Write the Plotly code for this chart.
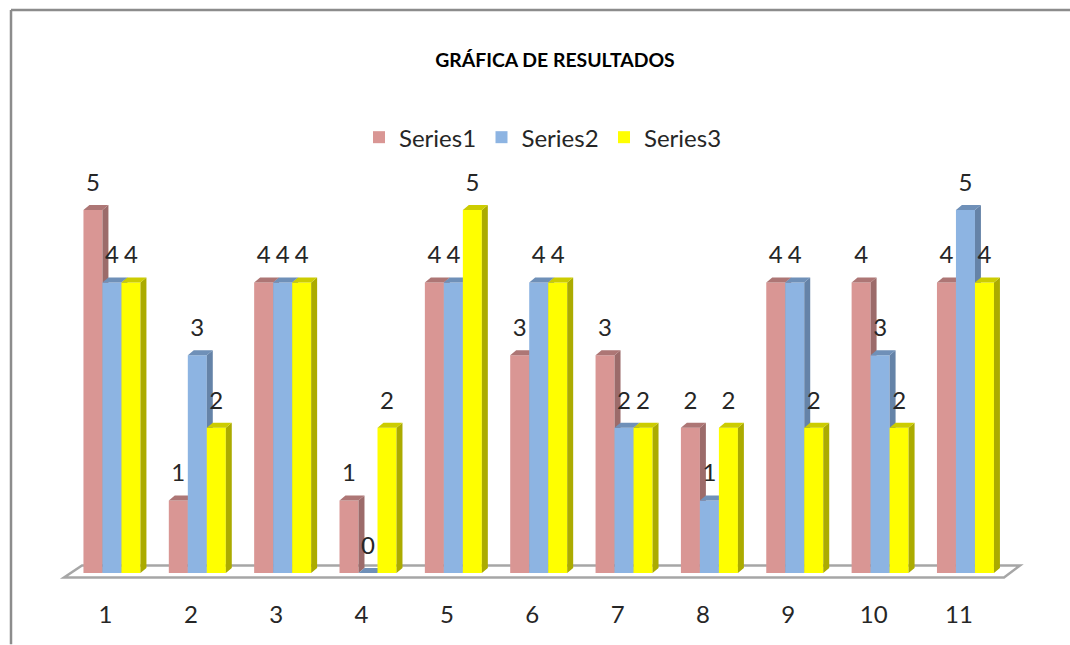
import plotly.graph_objects as go

categories = [1, 2, 3, 4, 5, 6, 7, 8, 9, 10, 11]
series1 = [5, 1, 4, 1, 4, 3, 3, 2, 4, 4, 4]
series2 = [4, 3, 4, 0, 4, 4, 2, 1, 4, 3, 5]
series3 = [4, 2, 4, 2, 5, 4, 2, 2, 2, 2, 4]
names = ['Series1', 'Series2', 'Series3']

front_colors = ['#D99694', '#8DB4E2', '#FFFF00']
side_colors = ['#9C6B6A', '#6583A8', '#ABAB00']
top_colors = ['#AD7675', '#6F90B8', '#CCCC00']

W, H = 1070, 645
L, R, T, B = 64, 50, 170.5, 66.5

# fake 3d look, all in axis units
x_range = [0.514, 11.715]
y_range = [-0.0687, 5.536]
bar_w = 0.2226
start = -0.258
dx = 0.07
dy = 0.069
label_gap = 0.18
font = 'Lato, sans-serif'


def px(x):
    return (x - L) / (W - L - R)


def py(y):
    return (H - B - y) / (H - T - B)


def faces(values, offset):
    side_x, side_y, top_x, top_y = [], [], [], []
    for c, v in zip(categories, values):
        x0 = c + offset
        x1 = x0 + bar_w
        side_x += [x1, x1 + dx, x1 + dx, x1, x1, None]
        side_y += [0, dy, v + dy, v, 0, None]
        top_x += [x0, x0 + dx, x1 + dx, x1, x0, None]
        top_y += [v, v + dy, v + dy, v, v, None]
    return side_x, side_y, top_x, top_y


fig = go.Figure()
axes = ['y', 'y2', 'y3']
for i, values in enumerate([series1, series2, series3]):
    offset = start + i * bar_w
    fig.add_trace(go.Bar(x=categories, y=values, name=names[i], width=bar_w, offset=offset, yaxis=axes[i],
                         marker=dict(color=front_colors[i], line=dict(width=0))))
    side_x, side_y, top_x, top_y = faces(values, offset)
    fig.add_trace(go.Scatter(x=side_x, y=side_y, mode='lines', fill='toself', fillcolor=side_colors[i], yaxis=axes[i],
                             line=dict(width=0), showlegend=False, hoverinfo='skip'))
    fig.add_trace(go.Scatter(x=top_x, y=top_y, mode='lines', fill='toself', fillcolor=top_colors[i], yaxis=axes[i],
                             line=dict(width=0), showlegend=False, hoverinfo='skip'))

# data labels go on the last overlay so nothing covers them
for i, values in enumerate([series1, series2, series3]):
    offset = start + i * bar_w
    fig.add_trace(go.Scatter(x=[c + offset + bar_w / 2 for c in categories], y=[v + label_gap for v in values],
                             mode='text', text=[str(v) for v in values], textposition='top center', yaxis='y3',
                             textfont=dict(family=font, size=24, color='#262626'), cliponaxis=False,
                             showlegend=False, hoverinfo='skip'))

# floor of the chart
floor = 'M {} {} L {} {} L {} {} L {} {} Z'.format(px(64), py(578), px(1004), py(578), px(1020), py(566), px(82), py(566))
fig.add_shape(type='path', path=floor, xref='paper', yref='paper', layer='below',
              line=dict(color='#A6A6A6', width=2.5), fillcolor='white')
# chart area frame, runs off the picture at the right and bottom
fig.add_shape(type='line', xref='paper', yref='paper', x0=px(11), x1=px(1070), y0=py(9), y1=py(9),
              line=dict(color='#8C8C8C', width=2.5))
fig.add_shape(type='line', xref='paper', yref='paper', x0=px(11), x1=px(11), y0=py(9), y1=py(645),
              line=dict(color='#8C8C8C', width=2.5))

fig.update_layout(
    width=W, height=H, margin=dict(l=L, r=R, t=T, b=B, autoexpand=False),
    paper_bgcolor='white', plot_bgcolor='rgba(0,0,0,0)',
    barmode='overlay', font=dict(family=font, color='#262626'),
    title=dict(text='<b>GRÁFICA DE RESULTADOS</b>', x=555 / W, xanchor='center', y=1 - 60 / H, yanchor='middle',
               font=dict(family=font, size=19.4, color='black')),
    legend=dict(orientation='h', x=px(359), xanchor='left', y=py(137), yanchor='middle', traceorder='normal',
                font=dict(family=font, size=24, color='#262626'), bgcolor='rgba(0,0,0,0)',
                entrywidth=77.5, entrywidthmode='pixels', itemwidth=30),
    xaxis=dict(range=x_range, tickmode='array', tickvals=categories, ticktext=[str(c) for c in categories],
               showgrid=False, zeroline=False, showline=False, ticks='outside', ticklen=15, tickcolor='rgba(0,0,0,0)',
               tickfont=dict(family=font, size=24, color='#262626')),
    yaxis=dict(range=y_range, visible=False),
    yaxis2=dict(range=y_range, visible=False, overlaying='y'),
    yaxis3=dict(range=y_range, visible=False, overlaying='y'),
)

# page has a default 8px body margin, drop it so pixels line up
fig.write_html("out.html", config=dict(displayModeBar=False), post_script="document.body.style.margin = '0';")
